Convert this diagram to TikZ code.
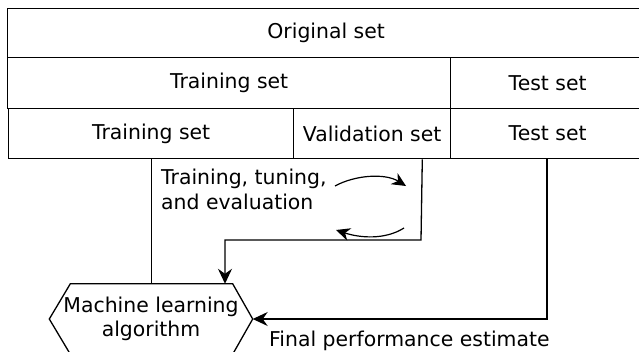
\documentclass[tikz,border=0pt]{standalone}
\usepackage{fontspec}
\setmainfont{DejaVu Sans}
\usetikzlibrary{arrows.meta,calc}
\begin{document}
\begin{tikzpicture}[x=1pt,y=-1pt,
  every node/.style={font=\fontsize{20.4}{24.5}\selectfont},
  cell/.style={draw,line width=1.3pt,anchor=north west,inner sep=0pt},
  conn/.style={line width=1.3pt},
  tip/.style={-{Stealth[length=15pt,width=14pt,inset=5pt]}},
  ctip/.style={-{Stealth[length=14pt,width=13pt,inset=4.5pt]}}]
\useasboundingbox (0,0) rectangle (639,351);
\begin{scope}
\clip (0,0) rectangle (639,351);
\node[cell,minimum width=637pt,minimum height=49pt] (orig) at (7,8) {Original set};
\node[cell,minimum width=443pt,minimum height=51pt] (train2) at (7,57) {Training set};
\node[cell,minimum width=194pt,minimum height=51pt] (test2) at (450,57) {Test set};
\node[cell,minimum width=285pt,minimum height=50pt] (train3) at (8,108) {Training set};
\node[cell,minimum width=157pt,minimum height=50pt] (val) at (293,108) {Validation set};
\node[cell,minimum width=194pt,minimum height=50pt] (test3) at (450,108) {Test set};

\node[minimum width=203pt,minimum height=70pt,inner sep=0pt,align=center] (ml) at (151,319) {Machine learning\\algorithm};
\draw[conn] (ml.west) -- ($(ml.north west)+(21,0)$) -- ($(ml.north east)+(-20,0)$) -- (ml.east)
  -- ($(ml.south east)+(-20,0)$) -- ($(ml.south west)+(21,0)$) -- cycle;

\node[anchor=north west,align=left,inner sep=0pt] (tte) at (161,169) {Training, tuning,\\and evaluation};
\node[anchor=west,inner sep=0pt] (fpe) at (269,341) {Final performance estimate};

\coordinate (vb) at ($(val.south east)+(-29,0)$);
\coordinate (vc) at (421,240);
\coordinate (vd) at (225,240);
\coordinate (tb) at (547,158);

\draw[conn] (train3.south) -- (train3.south |- ml.north);
\draw[conn,tip] (vb) -- (vc) -- (vd) -- (vd |- ml.north);
\draw[conn,tip] (tb) |- (ml.east);

\coordinate (a1) at (335,186);
\coordinate (a2) at (406,186);
\coordinate (b1) at (404,228);
\coordinate (b2) at (336,230);
\draw[line width=1.2pt,ctip] (a1) .. controls (355,175) and (385,173) .. (a2);
\draw[line width=1.2pt,ctip] (b1) .. controls (385,240) and (360,238) .. (b2);
\end{scope}
\end{tikzpicture}
\end{document}
